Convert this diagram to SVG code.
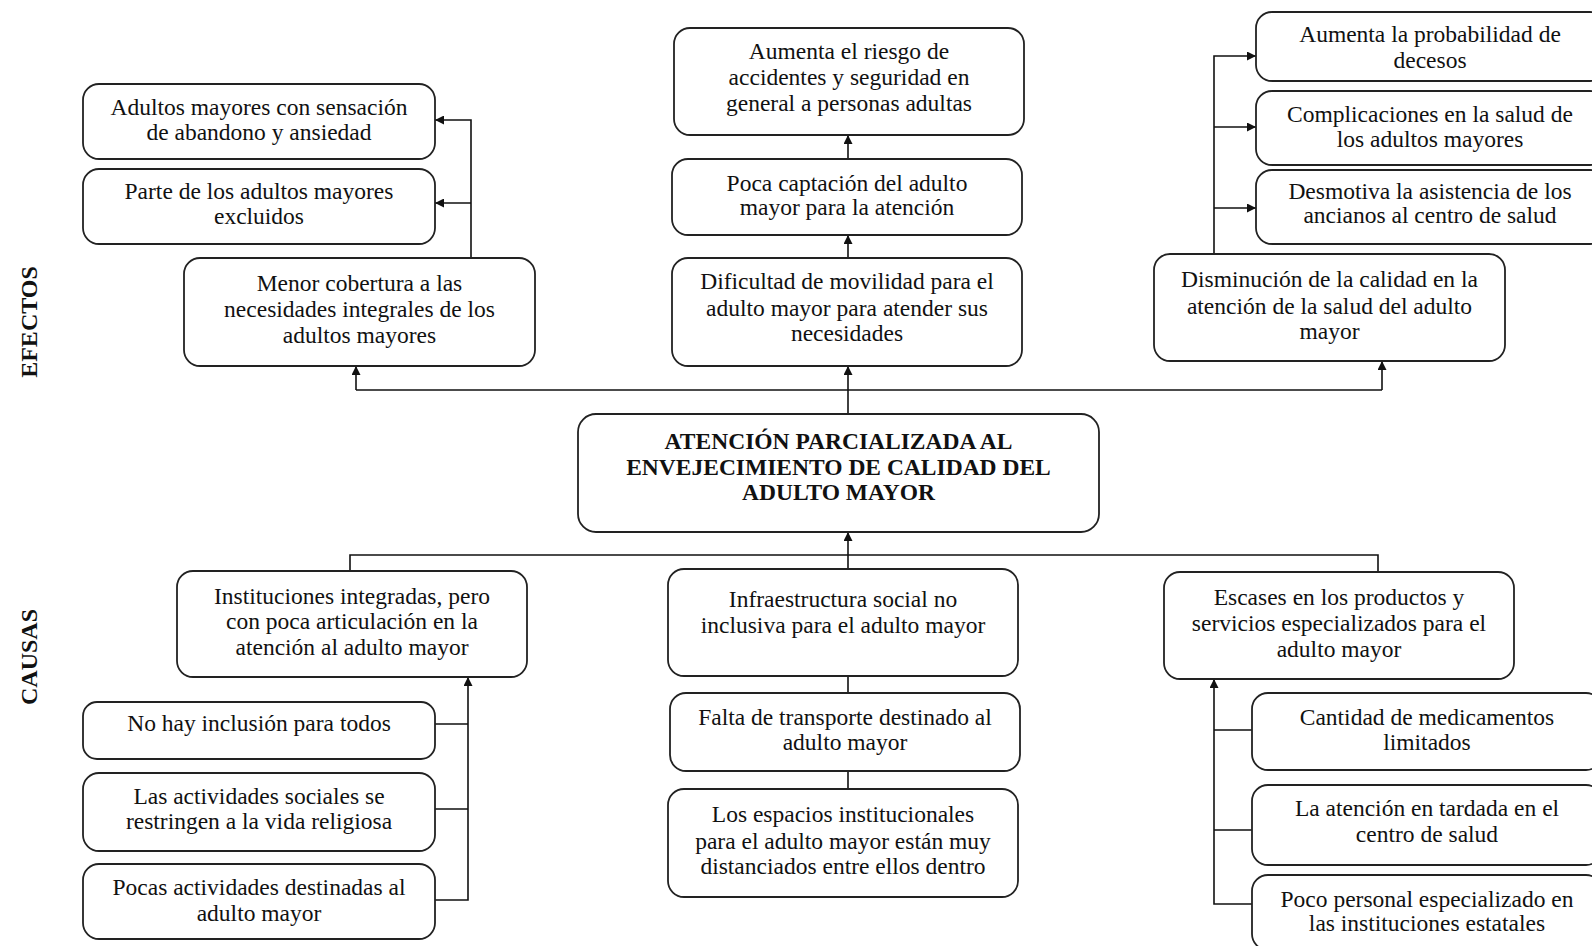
<svg xmlns="http://www.w3.org/2000/svg" width="1592" height="946" viewBox="0 0 1592 946">
<style>
.b{fill:#fff;stroke:#222;stroke-width:1.8}
.t{font-family:"Liberation Serif","Times New Roman",serif;font-size:23.5px;fill:#111;text-anchor:middle}
.h{font-weight:bold}
.c{fill:none;stroke:#111;stroke-width:1.6}
</style>
<defs>
<marker id="ah" viewBox="0 0 10 10" refX="10" refY="5" markerWidth="10" markerHeight="9" markerUnits="userSpaceOnUse" orient="auto"><path d="M0,0 L10,5 L0,10 z" fill="#111"/></marker>
</defs>
<rect width="1592" height="946" fill="#fff"/>
<g id="labels">
<text class="t h" transform="translate(37,322) rotate(-90)" style="font-size:24px">EFECTOS</text>
<text class="t h" transform="translate(37,657) rotate(-90)" style="font-size:24px">CAUSAS</text>
</g>
<g id="connectors">
<path class="c" d="M471,258 V120 H435" marker-end="url(#ah)"/>
<path class="c" d="M471,203 H435" marker-end="url(#ah)"/>
<path class="c" d="M356,390 H1382"/>
<path class="c" d="M356,390 V366" marker-end="url(#ah)"/>
<path class="c" d="M848,414 V366" marker-end="url(#ah)"/>
<path class="c" d="M1382,390 V361" marker-end="url(#ah)"/>
<path class="c" d="M848,258 V235" marker-end="url(#ah)"/>
<path class="c" d="M848,159 V135" marker-end="url(#ah)"/>
<path class="c" d="M1214,254 V56 H1256" marker-end="url(#ah)"/>
<path class="c" d="M1214,127 H1256" marker-end="url(#ah)"/>
<path class="c" d="M1214,208 H1256" marker-end="url(#ah)"/>
<path class="c" d="M350,571 V555 H1378 V572"/>
<path class="c" d="M848,569 V532" marker-end="url(#ah)"/>
<path class="c" d="M435,900 H468 V677" marker-end="url(#ah)"/>
<path class="c" d="M435,724 H468 M435,809 H468"/>
<path class="c" d="M848,676 V693 M848,771 V789"/>
<path class="c" d="M1252,904 H1214 V679" marker-end="url(#ah)"/>
<path class="c" d="M1252,730 H1214 M1252,830 H1214"/>
</g>
<g id="a1"><rect class="b" x="83" y="84" width="352" height="75" rx="16"/><text class="t"><tspan x="259" y="115">Adultos mayores con sensación</tspan><tspan x="259" y="140">de abandono y ansiedad</tspan></text></g>
<g id="a2"><rect class="b" x="83" y="169" width="352" height="75" rx="16"/><text class="t"><tspan x="259" y="199">Parte de los adultos mayores</tspan><tspan x="259" y="224">excluidos</tspan></text></g>
<g id="a3"><rect class="b" x="184" y="258" width="351" height="108" rx="16"/><text class="t"><tspan x="359.5" y="291">Menor cobertura a las</tspan><tspan x="359.5" y="317">necesidades integrales de los</tspan><tspan x="359.5" y="343">adultos mayores</tspan></text></g>
<g id="b1"><rect class="b" x="674" y="28" width="350" height="107" rx="16"/><text class="t"><tspan x="849" y="59">Aumenta el riesgo de</tspan><tspan x="849" y="85">accidentes y seguridad en</tspan><tspan x="849" y="111">general a personas adultas</tspan></text></g>
<g id="b2"><rect class="b" x="672" y="159" width="350" height="76" rx="16"/><text class="t"><tspan x="847" y="191">Poca captación del adulto</tspan><tspan x="847" y="215">mayor para la atención</tspan></text></g>
<g id="b3"><rect class="b" x="672" y="258" width="350" height="108" rx="16"/><text class="t"><tspan x="847" y="289">Dificultad de movilidad para el</tspan><tspan x="847" y="316">adulto mayor para atender sus</tspan><tspan x="847" y="341">necesidades</tspan></text></g>
<g id="c1"><rect class="b" x="1256" y="12" width="350" height="69" rx="16"/><text class="t"><tspan x="1430" y="42">Aumenta la probabilidad de</tspan><tspan x="1430" y="68">decesos</tspan></text></g>
<g id="c2"><rect class="b" x="1256" y="91" width="350" height="74" rx="16"/><text class="t"><tspan x="1430" y="122">Complicaciones en la salud de</tspan><tspan x="1430" y="147">los adultos mayores</tspan></text></g>
<g id="c3"><rect class="b" x="1256" y="170" width="350" height="74" rx="16"/><text class="t"><tspan x="1430" y="199">Desmotiva la asistencia de los</tspan><tspan x="1430" y="223">ancianos al centro de salud</tspan></text></g>
<g id="c4"><rect class="b" x="1154" y="254" width="351" height="107" rx="16"/><text class="t"><tspan x="1329.5" y="287">Disminución de la calidad en la</tspan><tspan x="1329.5" y="314">atención de la salud del adulto</tspan><tspan x="1329.5" y="339">mayor</tspan></text></g>
<g id="main"><rect class="b" x="578" y="414" width="521" height="118" rx="18"/><text class="t h"><tspan x="838.5" y="449">ATENCIÓN PARCIALIZADA AL</tspan><tspan x="838.5" y="475">ENVEJECIMIENTO DE CALIDAD DEL</tspan><tspan x="838.5" y="500">ADULTO MAYOR</tspan></text></g>
<g id="d1"><rect class="b" x="177" y="571" width="350" height="106" rx="16"/><text class="t"><tspan x="352" y="604">Instituciones integradas, pero</tspan><tspan x="352" y="629">con poca articulación en la</tspan><tspan x="352" y="655">atención al adulto mayor</tspan></text></g>
<g id="d2"><rect class="b" x="83" y="702" width="352" height="57" rx="14"/><text class="t"><tspan x="259" y="731">No hay inclusión para todos</tspan></text></g>
<g id="d3"><rect class="b" x="83" y="773" width="352" height="78" rx="16"/><text class="t"><tspan x="259" y="804">Las actividades sociales se</tspan><tspan x="259" y="829">restringen a la vida religiosa</tspan></text></g>
<g id="d4"><rect class="b" x="83" y="864" width="352" height="75" rx="16"/><text class="t"><tspan x="259" y="895">Pocas actividades destinadas al</tspan><tspan x="259" y="921">adulto mayor</tspan></text></g>
<g id="e1"><rect class="b" x="668" y="569" width="350" height="107" rx="16"/><text class="t"><tspan x="843" y="607">Infraestructura social no</tspan><tspan x="843" y="633">inclusiva para el adulto mayor</tspan></text></g>
<g id="e2"><rect class="b" x="670" y="693" width="350" height="78" rx="16"/><text class="t"><tspan x="845" y="725">Falta de transporte destinado al</tspan><tspan x="845" y="750">adulto mayor</tspan></text></g>
<g id="e3"><rect class="b" x="668" y="789" width="350" height="108" rx="16"/><text class="t"><tspan x="843" y="822">Los espacios institucionales</tspan><tspan x="843" y="849">para el adulto mayor están muy</tspan><tspan x="843" y="874">distanciados entre ellos dentro</tspan></text></g>
<g id="f1"><rect class="b" x="1164" y="572" width="350" height="107" rx="16"/><text class="t"><tspan x="1339" y="605">Escases en los productos y</tspan><tspan x="1339" y="631">servicios especializados para el</tspan><tspan x="1339" y="657">adulto mayor</tspan></text></g>
<g id="f2"><rect class="b" x="1252" y="693" width="350" height="77" rx="16"/><text class="t"><tspan x="1427" y="725">Cantidad de medicamentos</tspan><tspan x="1427" y="750">limitados</tspan></text></g>
<g id="f3"><rect class="b" x="1252" y="785" width="350" height="80" rx="16"/><text class="t"><tspan x="1427" y="816">La atención en tardada en el</tspan><tspan x="1427" y="842">centro de salud</tspan></text></g>
<g id="f4"><rect class="b" x="1252" y="875" width="350" height="75" rx="16"/><text class="t"><tspan x="1427" y="907">Poco personal especializado en</tspan><tspan x="1427" y="931">las instituciones estatales</tspan></text></g>
</svg>
